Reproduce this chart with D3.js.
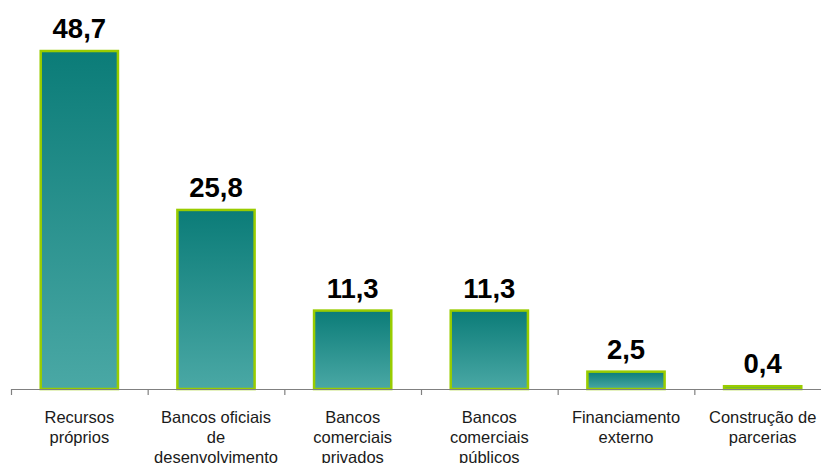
<!DOCTYPE html>
<html><head><meta charset="utf-8">
<script src="https://cdn.jsdelivr.net/npm/d3@7"></script>
<style>html,body{margin:0;padding:0;background:#fff;}svg{display:block;}</style>
</head><body>
<script>
const categories = [
  ["Recursos", "próprios"],
  ["Bancos oficiais", "de", "desenvolvimento"],
  ["Bancos", "comerciais", "privados"],
  ["Bancos", "comerciais", "públicos"],
  ["Financiamento", "externo"],
  ["Construção de", "parcerias"]
];
const values = [48.7, 25.8, 11.3, 11.3, 2.5, 0.4];
const valueLabels = ["48,7", "25,8", "11,3", "11,3", "2,5", "0,4"];

const W = 821, H = 463;
const svg = d3.select("body").append("svg").attr("width", W).attr("height", H);

const defs = svg.append("defs");
const grad = defs.append("linearGradient").attr("id", "barGrad")
  .attr("x1", 0).attr("y1", 0).attr("x2", 0).attr("y2", 1);
grad.append("stop").attr("offset", "0%").attr("stop-color", "#0b7c78");
grad.append("stop").attr("offset", "100%").attr("stop-color", "#4aa8a5");

const idx = d3.range(values.length);
const x = d3.scaleBand().domain(idx).range([11, 831]).paddingInner(0.435).paddingOuter(0.2175);
const y = d3.scaleLinear().domain([0, 50]).range([389, 42]);
const step = x.step();
const x0 = 11;

// bars
svg.selectAll("rect.bar").data(idx).enter().append("rect")
  .attr("class", "bar")
  .attr("x", i => x(i))
  .attr("y", i => y(values[i]))
  .attr("width", x.bandwidth())
  .attr("height", i => y(0) - y(values[i]))
  .attr("fill", "url(#barGrad)")
  .attr("stroke", "#99cc00")
  .attr("stroke-width", 2.5);

// axis line and ticks
svg.append("line").attr("x1", x0).attr("x2", W).attr("y1", y(0) + 0.5).attr("y2", y(0) + 0.5)
  .attr("stroke", "#808080").attr("stroke-width", 1.2);
svg.selectAll("line.tick").data(d3.range(values.length + 1)).enter().append("line")
  .attr("class", "tick")
  .attr("x1", i => x0 + i * step + 0.5).attr("x2", i => x0 + i * step + 0.5)
  .attr("y1", y(0)).attr("y2", y(0) + 6)
  .attr("stroke", "#808080").attr("stroke-width", 1.2);

// value labels
svg.selectAll("text.val").data(idx).enter().append("text")
  .attr("class", "val")
  .attr("x", i => x(i) + x.bandwidth() / 2)
  .attr("y", i => y(values[i]) - 13)
  .attr("text-anchor", "middle")
  .attr("font-family", "Liberation Sans, Arial, sans-serif")
  .attr("font-weight", "bold")
  .attr("font-size", 27.5)
  .attr("fill", "#000")
  .text(i => valueLabels[i]);

// category labels
const cat = svg.selectAll("text.cat").data(idx).enter().append("text")
  .attr("class", "cat")
  .attr("x", i => x(i) + x.bandwidth() / 2)
  .attr("y", 423)
  .attr("text-anchor", "middle")
  .attr("font-family", "Liberation Sans, Arial, sans-serif")
  .attr("font-size", 16.5)
  .attr("fill", "#1a1a1a");
cat.each(function(i) {
  const t = d3.select(this);
  categories[i].forEach((line, k) => {
    t.append("tspan").attr("x", x(i) + x.bandwidth() / 2).attr("dy", k === 0 ? 0 : 20).text(line);
  });
});
</script>
</body></html>
